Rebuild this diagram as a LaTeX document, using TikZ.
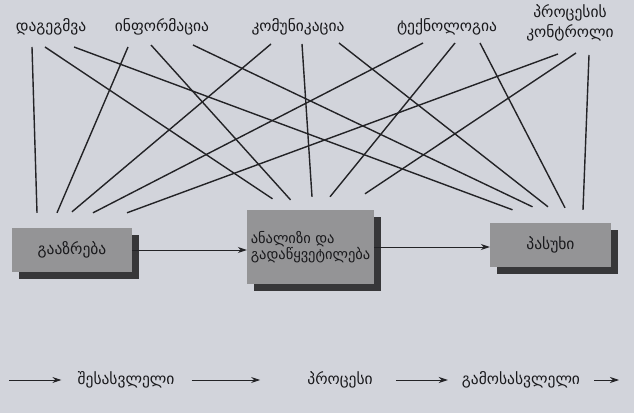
\documentclass[tikz,border=0pt]{standalone}
\usepackage{fontspec}
\newfontfamily\geofont{DejaVu Sans}
\usetikzlibrary{arrows.meta, shadows}
\definecolor{paper}{RGB}{210,212,219}
\definecolor{boxgray}{RGB}{148,148,150}
\definecolor{shadowgray}{RGB}{55,55,57}
\definecolor{linegray}{RGB}{35,35,38}
\definecolor{inkgray}{RGB}{25,25,28}
\tikzstyle{topic} = [
    font=\geofont\fontsize{15.5}{20}\selectfont,
    text=inkgray,
    align=center,
    inner sep=2pt
]
\tikzstyle{stage} = [
    rectangle,
    fill=boxgray,
    minimum width=120pt,
    minimum height=44pt,
    font=\geofont\fontsize{15.5}{16}\selectfont,
    text=inkgray,
    drop shadow={shadow xshift=7pt, shadow yshift=-7pt, fill=shadowgray, opacity=1}
]
\tikzstyle{link} = [line width=1.4pt, draw=linegray]
\tikzstyle{arrow} = [line width=0.9pt, draw=linegray, ->, >={Stealth[length=9pt, width=6pt]}]

\begin{document}
\begin{tikzpicture}[x=1pt, y=1pt]

\fill [paper] (0,0) rectangle (634,413);
\useasboundingbox (0,0) rectangle (634,413);

\node (plan) [topic] at (51,386) {დაგეგმვა};

\node (info) [topic] at (162,386) {ინფორმაცია};

\node (comm) [topic] at (298,386) {კომუნიკაცია};

\node (tech) [topic] at (447,386) {ტექნოლოგია};

\node (ctrl) [topic] at (570,390) {პროცესის\\კონტროლი};

\node (gaz) [stage] at (72,163) {გააზრება};

\node (anl) [stage, minimum width=127pt, minimum height=74pt, align=left,
    font=\geofont\fontsize{14.5}{16}\selectfont] at (310.5,166)
{ანალიზი და\\გადაწყვეტილება};

\node (pas) [stage, minimum width=121pt] at (550.5,168) {პასუხი};

\draw [link] ([xshift=-19pt, yshift=-20pt]plan.center) -- ([xshift=-35pt, yshift=15pt]gaz.north);
\draw [link] ([xshift=-6pt, yshift=-20pt]plan.center) -- ([xshift=-38pt, yshift=11pt]anl.north);
\draw [link] ([xshift=23pt, yshift=-20pt]plan.center) -- ([xshift=-38pt, yshift=13pt]pas.north);

\draw [link] ([xshift=-34pt, yshift=-20pt]info.center) -- ([xshift=-15pt, yshift=15pt]gaz.north);
\draw [link] ([xshift=-11pt, yshift=-18pt]info.center) -- ([xshift=-20pt, yshift=10pt]anl.north);
\draw [link] ([xshift=31pt, yshift=-18pt]info.center) -- ([xshift=-18pt, yshift=16pt]pas.north);

\draw [link] ([xshift=-27pt, yshift=-17pt]comm.center) -- ([xshift=0pt, yshift=16pt]gaz.north);
\draw [link] ([xshift=4pt, yshift=-17pt]comm.center) -- ([xshift=1.5pt, yshift=13pt]anl.north);
\draw [link] ([xshift=41pt, yshift=-16pt]comm.center) -- ([xshift=-2.5pt, yshift=16pt]pas.north);

\draw [link] ([xshift=-24pt, yshift=-16pt]tech.center) -- ([xshift=21pt, yshift=15pt]gaz.north);
\draw [link] ([xshift=8pt, yshift=-16pt]tech.center) -- ([xshift=19.5pt, yshift=13pt]anl.north);
\draw [link] ([xshift=33pt, yshift=-16pt]tech.center) -- ([xshift=14.5pt, yshift=15pt]pas.north);

\draw [link] ([xshift=-12pt, yshift=-31pt]ctrl.center) -- ([xshift=55pt, yshift=15pt]gaz.north);
\draw [link] ([xshift=6pt, yshift=-30pt]ctrl.center) -- ([xshift=54.5pt, yshift=16pt]anl.north);
\draw [link] ([xshift=19pt, yshift=-32pt]ctrl.center) -- ([xshift=32.5pt, yshift=13pt]pas.north);

\draw [arrow] (gaz.east) -- (gaz.east -| anl.west);
\draw [arrow] (anl.east) -- (anl.east -| pas.west);

\coordinate (src) at (9,33);

\node (inp) [topic] at (126,33) {შესასვლელი};

\node (proc) [topic] at (340,33) {პროცესი};

\node (outp) [topic] at (521,33) {გამოსასვლელი};

\coordinate (snk) at (619,33);

\draw [arrow, shorten >=14pt] (src) -- (inp);
\draw [arrow, shorten <=15pt, shorten >=45pt] (inp) -- (proc);
\draw [arrow, shorten <=21pt, shorten >=12pt] (proc) -- (outp);
\draw [arrow, shorten <=12pt] (outp) -- (snk);

\end{tikzpicture}
\end{document}
